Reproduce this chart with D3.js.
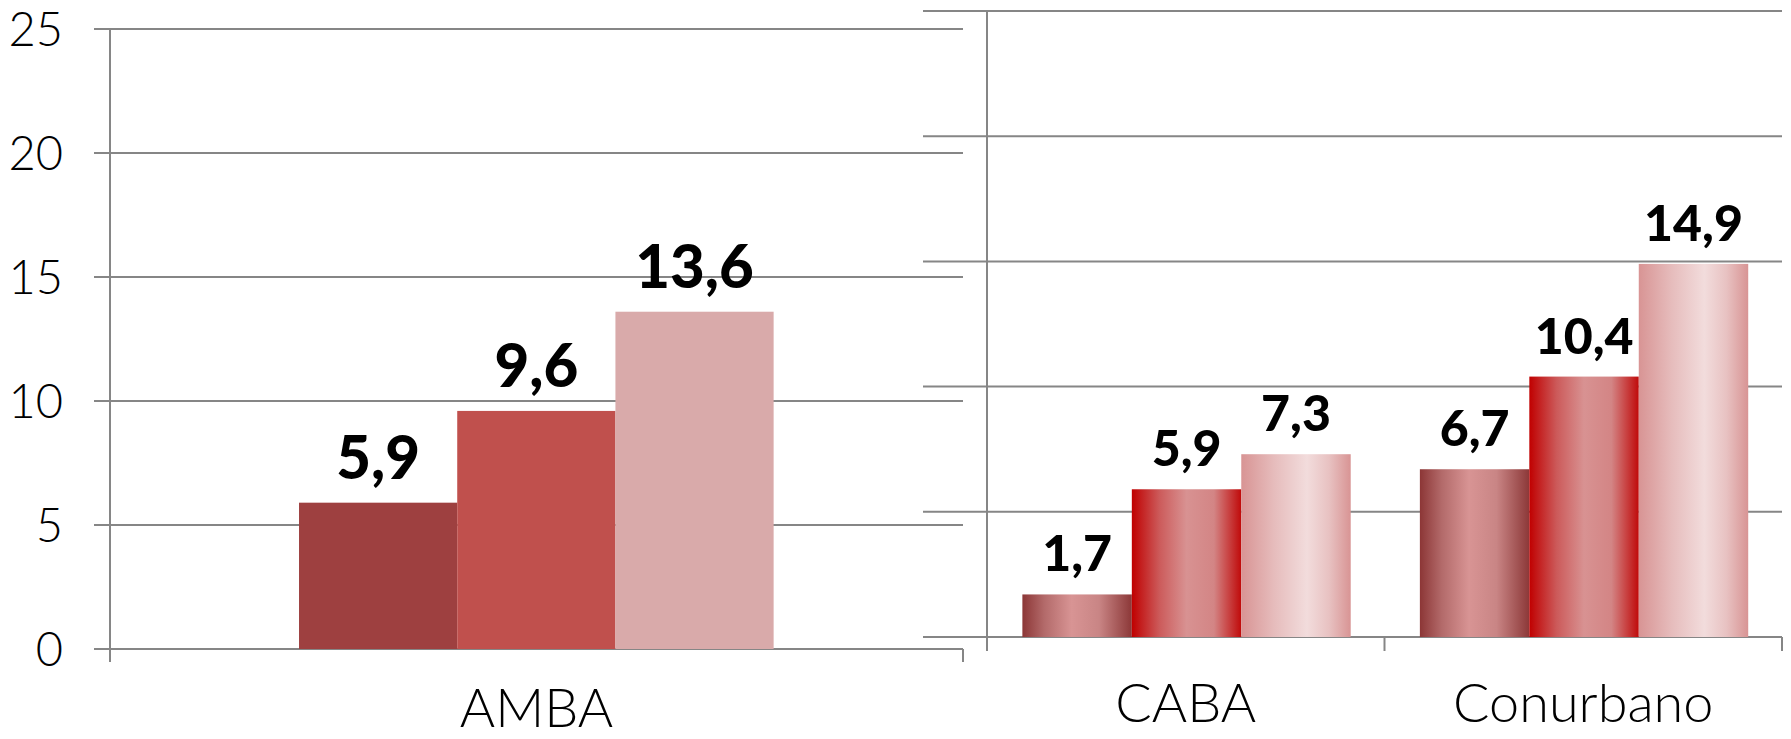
<!DOCTYPE html>
<html>

<head>
    <meta charset="utf-8">
    <style>
        body {
            margin: 0;
            background: white;
        }

        svg {
            display: block;
            font-family: 'Century Gothic', Lato, 'Noto Sans', sans-serif;
        }

        .tick-label {
            font-size: 47px;
            font-weight: 300;
        }

        .cat-label {
            font-size: 54px;
            font-weight: 300;
        }

        .val-label {
            font-weight: 900;
        }
    </style>
</head>

<body>
    <svg width="1791" height="739"></svg>

    <script src="https://d3js.org/d3.v7.min.js"></script>
    <script>
        // data
        const leftCategories = ["AMBA"];
        const rightCategories = ["CABA", "Conurbano"];
        const amba = [5.9, 9.6, 13.6];
        const caba = [1.7, 5.9, 7.3];
        const conurbano = [6.7, 10.4, 14.9];
        const yTicks = [0, 5, 10, 15, 20, 25];

        const leftData = [{ cat: "AMBA", values: amba }];
        const rightData = [
            { cat: "CABA", values: caba },
            { cat: "Conurbano", values: conurbano }
        ];

        const fmt = d3.formatLocale({ decimal: ",", thousands: ".", grouping: [3], currency: ["$", ""] }).format(".1f");

        const svg = d3.select("svg");
        const gridColor = "#868686";

        // flat colours on the left, gradients on the right
        const flatColors = ["#9e4040", "#c0504d", "#d9aaaa"];

        let defs = svg.append("defs");
        const gradStops = [
            [[0, "#8c3636"], [0.2, "#b36a6a"], [0.45, "#d89494"], [0.7, "#c98585"], [1, "#8c3838"]],
            [[0, "#c00000"], [0.25, "#cc5a5a"], [0.5, "#d89292"], [0.75, "#d38585"], [1, "#c00a0a"]],
            [[0, "#d89494"], [0.3, "#e6bcbc"], [0.6, "#f2dcdc"], [0.8, "#e8c2c2"], [1, "#d89494"]]
        ];
        gradStops.forEach((stops, i) => {
            let g = defs.append("linearGradient")
                .attr("id", "grad" + i)
                .attr("x1", "0%").attr("x2", "100%")
                .attr("y1", "0%").attr("y2", "0%");
            stops.forEach(s => {
                g.append("stop").attr("offset", s[0]).attr("stop-color", s[1]);
            });
        });

        // ---------- right chart (drawn first, sits behind) ----------
        let rY = d3.scaleLinear().domain([0, 25]).range([637, 11]);
        let rX = d3.scaleBand().domain(rightCategories).range([987, 1782]);
        let rInner = d3.scaleBand().domain([0, 1, 2])
            .range([rX.bandwidth() * 0.089, rX.bandwidth() * 0.915]);

        let right = svg.append("g");

        right.selectAll(".rgrid")
            .data(yTicks)
            .join("line")
            .attr("x1", 923).attr("x2", 1782)
            .attr("y1", d => rY(d)).attr("y2", d => rY(d))
            .style("stroke", gridColor)
            .style("stroke-width", 2);

        right.append("line")
            .attr("x1", 987).attr("x2", 987)
            .attr("y1", rY(25)).attr("y2", rY(0) + 14)
            .style("stroke", gridColor).style("stroke-width", 2);

        right.selectAll(".rtick")
            .data(rightCategories)
            .join("line")
            .attr("x1", d => rX(d) + rX.bandwidth()).attr("x2", d => rX(d) + rX.bandwidth())
            .attr("y1", rY(0)).attr("y2", rY(0) + 14)
            .style("stroke", gridColor).style("stroke-width", 2);

        let rGroups = right.selectAll(".rgroup")
            .data(rightData)
            .join("g")
            .attr("transform", d => `translate(${rX(d.cat)},0)`);

        rGroups.selectAll("rect")
            .data(d => d.values)
            .join("rect")
            .attr("x", (d, i) => rInner(i))
            .attr("width", rInner.bandwidth())
            .attr("y", d => rY(d))
            .attr("height", d => rY(0) - rY(d))
            .style("fill", (d, i) => `url(#grad${i})`);

        rGroups.selectAll(".val-label")
            .data(d => d.values)
            .join("text")
            .attr("class", "val-label")
            .attr("x", (d, i) => rInner(i) + rInner.bandwidth() / 2)
            .attr("y", d => rY(d) - 23)
            .attr("text-anchor", "middle")
            .style("font-size", "50px")
            .text(d => fmt(d));

        right.selectAll(".cat-label")
            .data(rightCategories)
            .join("text")
            .attr("class", "cat-label")
            .attr("x", d => rX(d) + rX.bandwidth() / 2)
            .attr("y", 722)
            .attr("text-anchor", "middle")
            .text(d => d);

        // ---------- left chart ----------
        let lY = d3.scaleLinear().domain([0, 25]).range([649, 29]);
        let lX = d3.scaleBand().domain(leftCategories).range([110, 963]);
        let lInner = d3.scaleBand().domain([0, 1, 2])
            .range([lX.bandwidth() * 0.2216, lX.bandwidth() * 0.778]);

        let left = svg.append("g");

        left.selectAll(".lgrid")
            .data(yTicks)
            .join("line")
            .attr("x1", 94).attr("x2", 963)
            .attr("y1", d => lY(d)).attr("y2", d => lY(d))
            .style("stroke", gridColor)
            .style("stroke-width", 2);

        left.selectAll(".tick-label")
            .data(yTicks)
            .join("text")
            .attr("class", "tick-label")
            .attr("x", 63)
            .attr("y", d => lY(d) + 17)
            .attr("text-anchor", "end")
            .text(d => d);

        left.append("line")
            .attr("x1", 110).attr("x2", 110)
            .attr("y1", lY(25)).attr("y2", lY(0) + 13)
            .style("stroke", gridColor).style("stroke-width", 2);

        left.append("line")
            .attr("x1", 963).attr("x2", 963)
            .attr("y1", lY(0)).attr("y2", lY(0) + 13)
            .style("stroke", gridColor).style("stroke-width", 2);

        let lGroups = left.selectAll(".lgroup")
            .data(leftData)
            .join("g")
            .attr("transform", d => `translate(${lX(d.cat)},0)`);

        lGroups.selectAll("rect")
            .data(d => d.values)
            .join("rect")
            .attr("x", (d, i) => lInner(i))
            .attr("width", lInner.bandwidth())
            .attr("y", d => lY(d))
            .attr("height", d => lY(0) - lY(d))
            .style("fill", (d, i) => flatColors[i]);

        lGroups.selectAll(".val-label")
            .data(d => d.values)
            .join("text")
            .attr("class", "val-label")
            .attr("x", (d, i) => lInner(i) + lInner.bandwidth() / 2)
            .attr("y", d => lY(d) - 24)
            .attr("text-anchor", "middle")
            .style("font-size", "60px")
            .text(d => fmt(d));

        left.selectAll(".cat-label")
            .data(leftCategories)
            .join("text")
            .attr("class", "cat-label")
            .attr("x", d => lX(d) + lX.bandwidth() / 2)
            .attr("y", 727)
            .attr("text-anchor", "middle")
            .text(d => d);
    </script>
</body>

</html>
